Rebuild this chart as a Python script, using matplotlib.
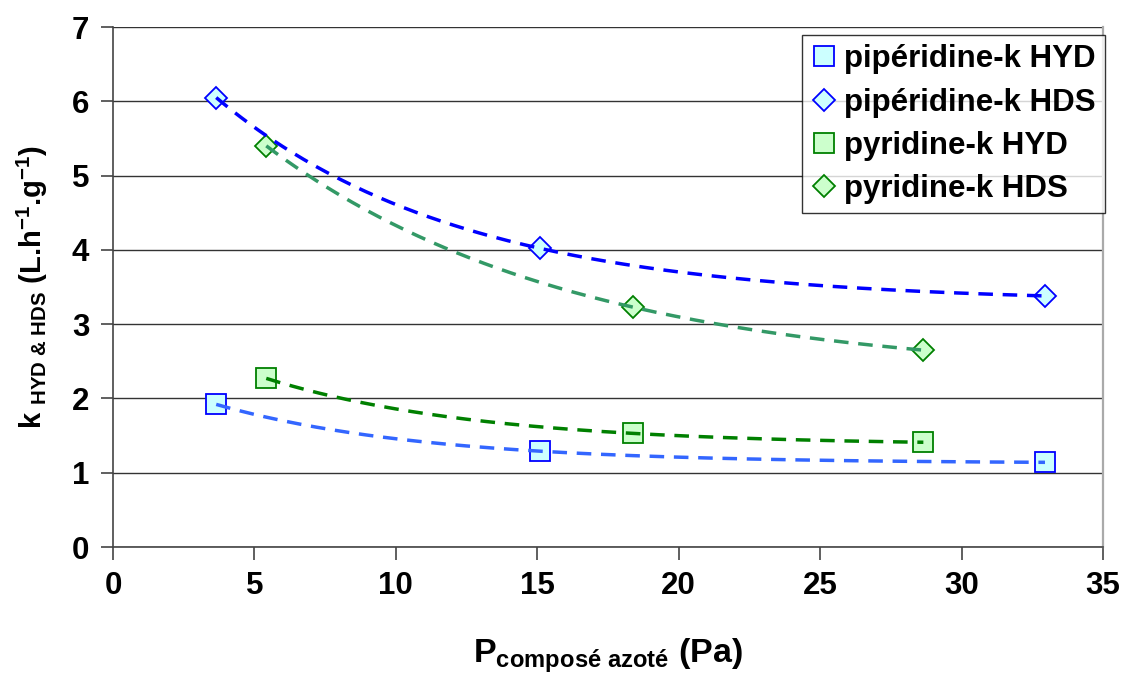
import matplotlib
matplotlib.use("Agg")
import matplotlib.pyplot as plt
import numpy as np

plt.rcParams['font.family'] = ['Liberation Sans', 'DejaVu Sans']
plt.rcParams['font.weight'] = 'bold'
plt.rcParams['mathtext.fontset'] = 'custom'
plt.rcParams['mathtext.rm'] = 'Liberation Sans:bold'
plt.rcParams['mathtext.it'] = 'Liberation Sans:bold'
plt.rcParams['mathtext.bf'] = 'Liberation Sans:bold'
plt.rcParams['mathtext.default'] = 'regular'

# partial pressure of the nitrogen compound (Pa) and rate constants
pip_p = [3.65, 15.1, 32.95]
pip_hyd = [1.92, 1.29, 1.14]
pip_hds = [6.05, 4.02, 3.38]

pyr_p = [5.42, 18.37, 28.65]
pyr_hyd = [2.27, 1.53, 1.41]
pyr_hds = [5.40, 3.23, 2.65]

series = [
    ("pipéridine-k HYD", pip_p, pip_hyd, 's', '#CCFFFF', '#0000FF', '#3366FF'),
    ("pipéridine-k HDS", pip_p, pip_hds, 'D', '#CCFFFF', '#0000FF', '#0000FF'),
    ("pyridine-k HYD", pyr_p, pyr_hyd, 's', '#CCFFCC', '#008000', '#008000'),
    ("pyridine-k HDS", pyr_p, pyr_hds, 'D', '#CCFFCC', '#008000', '#339966'),
]


def decay_fit(x, y):
    # y = a + b*exp(-c*x), best c found by scanning, a and b by least squares
    x = np.asarray(x, float)
    y = np.asarray(y, float)
    best = None
    for c in np.linspace(0.005, 0.6, 3000):
        A = np.column_stack([np.ones_like(x), np.exp(-c * x)])
        coef, *_ = np.linalg.lstsq(A, y, rcond=None)
        r = np.sum((A @ coef - y) ** 2)
        if best is None or r < best[0]:
            best = (r, c, coef)
    _, c, (a, b) = best
    return lambda t: a + b * np.exp(-c * t)


fig = plt.figure(figsize=(11.33, 6.75), dpi=100)
ax = fig.add_axes([0.0997, 0.1896, 0.8738, 0.7704])

for label, x, y, mk, fc, ec, lc in series:
    ms = 14 if mk == 's' else 11
    ax.plot(x, y, linestyle='none', marker=mk, ms=ms, mfc=fc, mec=ec,
            mew=1.3, label=label, zorder=3)
    f = decay_fit(x, y)
    xs = np.linspace(min(x), max(x), 200)
    ax.plot(xs, f(xs), color=lc, lw=2.5, dashes=(4.2, 2.8), zorder=4)

ax.set_xlim(0, 35)
ax.set_ylim(0, 7)
ax.set_xticks(np.arange(0, 36, 5))
ax.set_yticks(np.arange(0, 8, 1))
ax.yaxis.grid(True, color='#333333', lw=1.0)
ax.set_axisbelow(True)

for s in ['left', 'bottom']:
    ax.spines[s].set_color('#444444')
    ax.spines[s].set_linewidth(1.2)
ax.spines['right'].set_color('#aaaaaa')
ax.spines['right'].set_linewidth(1.6)
ax.spines['top'].set_visible(False)

ax.tick_params(axis='both', direction='out', length=9, width=1.2,
               color='#444444', labelsize=22.5, pad=8)
for t in ax.get_xticklabels() + ax.get_yticklabels():
    t.set_fontweight('bold')

nbsp = '\u00a0'
ax.set_xlabel('P$_{composé' + nbsp + 'azoté}$ (Pa)', fontsize=24.5,
              fontweight='bold', labelpad=26)
ax.set_ylabel('k' + nbsp + '$_{HYD' + nbsp + '&' + nbsp + 'HDS}$ (L.h$^{-1}$.g$^{-1}$)',
              fontsize=21, fontweight='bold', labelpad=16)

leg = fig.legend(loc='upper right', bbox_to_anchor=(1105 / 1133, 1 - 35 / 675),
                 prop={'weight': 'bold', 'size': 22.5},
                 frameon=True, fancybox=False, edgecolor='black',
                 borderpad=0.3, handletextpad=0.2, labelspacing=0.42,
                 handlelength=0.85, borderaxespad=0)
leg.get_frame().set_linewidth(1.0)

fig.savefig('out.png', dpi=100)
